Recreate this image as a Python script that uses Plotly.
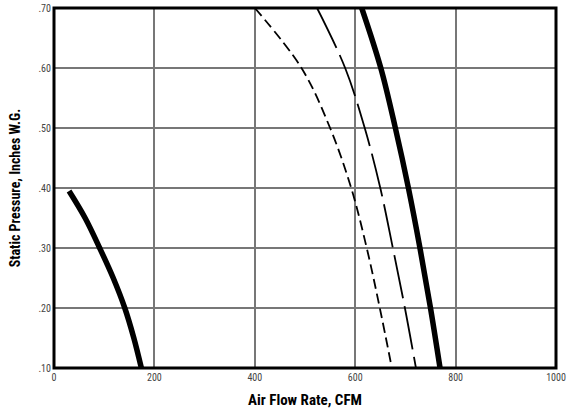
import plotly.graph_objects as go

# Data
small_cfm = [30, 62, 91, 118, 141, 159, 174]
small_sp = [0.395, 0.35, 0.30, 0.25, 0.20, 0.15, 0.10]

dash_cfm = [400, 493, 550, 592, 623, 649, 673]
dash_sp = [0.70, 0.60, 0.50, 0.40, 0.30, 0.20, 0.10]

long_cfm = [524, 580, 619, 650, 675, 699, 721]
long_sp = [0.70, 0.60, 0.50, 0.40, 0.30, 0.20, 0.10]

big_cfm = [613, 651, 680, 706, 729, 750, 769]
big_sp = [0.70, 0.60, 0.50, 0.40, 0.30, 0.20, 0.10]

x_ticks = [0, 200, 400, 600, 800, 1000]
x_labels = ["0", "200", "400", "600", "800", "1000"]
y_ticks = [0.1, 0.2, 0.3, 0.4, 0.5, 0.6, 0.7]
y_labels = [".10", ".20", ".30", ".40", ".50", ".60", ".70"]

FONT = "Liberation Sans Narrow, Arial Narrow, Roboto Condensed, Liberation Sans, sans-serif"

fig = go.Figure()
fig.add_trace(go.Scatter(x=small_cfm, y=small_sp, mode="lines",
                         line=dict(color="black", width=5.5, shape="spline", smoothing=1),
                         showlegend=False, hoverinfo="skip"))
fig.add_trace(go.Scatter(x=dash_cfm, y=dash_sp, mode="lines",
                         line=dict(color="black", width=1.8, shape="spline", smoothing=1,
                                   dash="10px,5px"),
                         showlegend=False, hoverinfo="skip"))
fig.add_trace(go.Scatter(x=long_cfm, y=long_sp, mode="lines",
                         line=dict(color="black", width=1.8, shape="spline", smoothing=1,
                                   dash="44px,8px"),
                         showlegend=False, hoverinfo="skip"))
fig.add_trace(go.Scatter(x=big_cfm, y=big_sp, mode="lines",
                         line=dict(color="black", width=5.5, shape="spline", smoothing=1),
                         showlegend=False, hoverinfo="skip"))

# plot frame
fig.add_shape(type="rect", xref="paper", yref="paper", x0=0, x1=1, y0=0, y1=1,
              line=dict(color="black", width=3), layer="above")

fig.update_layout(
    width=567, height=412,
    margin=dict(l=54, r=11, t=8, b=44),
    paper_bgcolor="white", plot_bgcolor="white",
    font=dict(family=FONT, color="#333"),
    xaxis=dict(range=[0, 1000], tickvals=x_ticks, ticktext=x_labels, automargin=False,
               showgrid=True, gridcolor="#777", gridwidth=1.5,
               showline=False, zeroline=False, ticks="",
               tickfont=dict(size=10, color="#444"), ticklabelstandoff=2,
               title=dict(text="<b>Air Flow Rate, CFM</b>", standoff=12,
                          font=dict(size=15, color="black", family=FONT))),
    yaxis=dict(range=[0.1, 0.7], tickvals=y_ticks, ticktext=y_labels, automargin=False,
               showgrid=True, gridcolor="#777", gridwidth=1.5,
               showline=False, zeroline=False, ticks="",
               tickfont=dict(size=10, color="#444"), ticklabelstandoff=2,
               title=dict(text="<b>Static Pressure, Inches W.G.</b>", standoff=14,
                          font=dict(size=14, color="black", family=FONT))),
)

fig.write_html("out.html", config={"displayModeBar": False},
               post_script="document.body.style.margin='0';")
